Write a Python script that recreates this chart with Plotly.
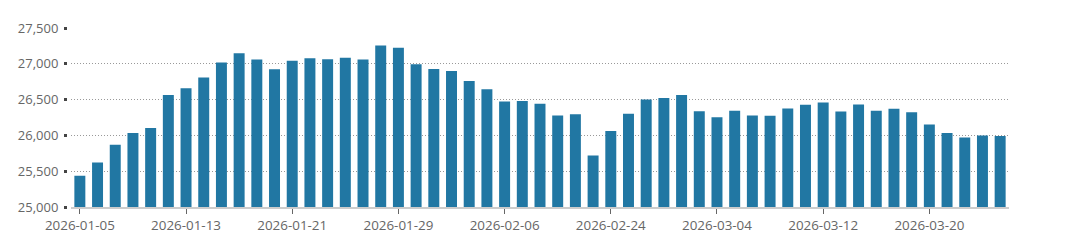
import plotly.graph_objects as go

dates = [
    "2026-01-05", "2026-01-06", "2026-01-07", "2026-01-08", "2026-01-09",
    "2026-01-12", "2026-01-13", "2026-01-14", "2026-01-15", "2026-01-16",
    "2026-01-19", "2026-01-20", "2026-01-21", "2026-01-22", "2026-01-23",
    "2026-01-26", "2026-01-27", "2026-01-28", "2026-01-29", "2026-01-30",
    "2026-02-02", "2026-02-03", "2026-02-04", "2026-02-05", "2026-02-06",
    "2026-02-09", "2026-02-10", "2026-02-11", "2026-02-12", "2026-02-13",
    "2026-02-24", "2026-02-25", "2026-02-26", "2026-02-27",
    "2026-03-02", "2026-03-03", "2026-03-04", "2026-03-05", "2026-03-06",
    "2026-03-09", "2026-03-10", "2026-03-11", "2026-03-12", "2026-03-13",
    "2026-03-16", "2026-03-17", "2026-03-18", "2026-03-19", "2026-03-20",
    "2026-03-23", "2026-03-24", "2026-03-25", "2026-03-26",
]

values = [
    25435, 25623, 25871, 26035, 26105,
    26564, 26657, 26807, 27018, 27149,
    27060, 26924, 27041, 27079, 27065,
    27083, 27060, 27256, 27224, 26994,
    26929, 26901, 26760, 26643, 26475,
    26479, 26442, 26278, 26297, 25721,
    26063, 26302, 26503, 26522,
    26564, 26339, 26255, 26344, 26278,
    26273, 26376, 26428, 26461, 26334,
    26433, 26344, 26372, 26325, 26152,
    26035, 25969, 25997, 25993,
]

tick_labels = ["2026-01-05", "2026-01-13", "2026-01-21", "2026-01-29", "2026-02-06",
               "2026-02-24", "2026-03-04", "2026-03-12", "2026-03-20"]

y_ticks = [25000, 25500, 26000, 26500, 27000, 27500]

W, H = 1080, 245
ML, MR = 62, 71
plot_w = W - ML - MR

fig = go.Figure(
    go.Bar(
        x=dates,
        y=values,
        marker=dict(color="#2177a3", line=dict(width=0)),
        hoverinfo="x+y",
    )
)

fig.update_layout(
    width=W,
    height=H,
    margin=dict(l=ML, r=MR, t=28, b=38),
    paper_bgcolor="white",
    plot_bgcolor="white",
    bargap=0.38,
    showlegend=False,
    font=dict(family="Open Sans", size=13, color="#666666"),
)

fig.update_xaxes(
    type="category",
    domain=[9 / plot_w, 1],
    range=[-0.5, len(dates) - 0.5],
    tickmode="array",
    tickvals=tick_labels,
    ticktext=tick_labels,
    ticks="outside",
    ticklen=5,
    tickwidth=1,
    tickcolor="#666666",
    showgrid=False,
    showline=True,
    linecolor="#cccccc",
    linewidth=2,
    tickfont=dict(size=13.4, color="#666666"),
    fixedrange=True,
)

fig.update_yaxes(
    range=[25000, 27500],
    anchor="free",
    position=5 / plot_w,
    tickmode="array",
    tickvals=y_ticks,
    tickformat=",",
    ticks="outside",
    ticklen=3,
    tickwidth=3,
    tickcolor="#444444",
    showgrid=True,
    gridcolor="#999999",
    griddash="1px,2px",
    gridwidth=1,
    zeroline=False,
    showline=False,
    ticklabelstandoff=3,
    tickfont=dict(size=13, color="#666666"),
    fixedrange=True,
)

fig.write_html("out.html")
